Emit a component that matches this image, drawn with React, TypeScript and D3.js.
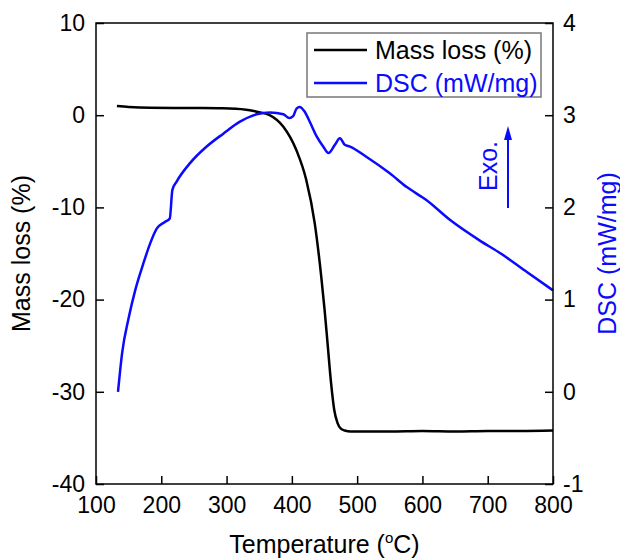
import React, { useRef, useEffect } from "react";
import * as d3 from "d3";

// mass loss (TG) curve, left axis
const massTemp = [132, 150, 183, 250, 294, 330, 346, 366, 387, 407, 422, 435, 445, 450, 455, 460, 465, 470, 475, 481, 490, 500, 550, 600, 650, 700, 750, 800];
const massLoss = [1.0, 0.9, 0.81, 0.78, 0.75, 0.6, 0.38, 0.02, -1.25, -3.8, -7, -11.7, -17.5, -21, -25, -29, -32, -33.4, -34, -34.2, -34.3, -34.3, -34.3, -34.25, -34.3, -34.25, -34.25, -34.2];

// DSC curve, right axis
const dscTemp = [133.7, 140, 150, 160, 172, 183, 193, 205, 213, 217, 223.5, 244, 269.5, 295, 320.5, 346, 366.5, 387, 396, 402, 407, 412, 419.5, 428, 438, 448, 456, 466, 473.6, 481, 489, 514, 550, 576, 606, 643, 688, 720, 760, 800];
const dscValue = [0.0, 0.42, 0.8, 1.1, 1.38, 1.61, 1.77, 1.84, 1.88, 2.19, 2.28, 2.48, 2.66, 2.8, 2.93, 3.01, 3.03, 3.01, 2.97, 2.99, 3.07, 3.09, 3.04, 2.92, 2.77, 2.66, 2.59, 2.68, 2.75, 2.68, 2.66, 2.55, 2.37, 2.22, 2.08, 1.86, 1.64, 1.5, 1.3, 1.1];

const xTicks = [100, 200, 300, 400, 500, 600, 700, 800];
const leftTicks = [-40, -30, -20, -10, 0, 10];
const rightTicks = [-1, 0, 1, 2, 3, 4];

const BLUE = "#0a0aff";
const FONT = "'Liberation Sans', Arial, sans-serif";

export default function App() {
  const ref = useRef<SVGSVGElement>(null);

  useEffect(() => {
    const svg = d3.select(ref.current);
    svg.selectAll("*").remove();
    const width = 620;
    const height = 558;
    const m = { left: 96, right: 553, top: 23, bottom: 484 };

    const x = d3.scaleLinear().domain([100, 800]).range([m.left, m.right]);
    const yL = d3.scaleLinear().domain([-40, 10]).range([m.bottom, m.top]);
    const yR = d3.scaleLinear().domain([-1, 4]).range([m.bottom, m.top]);

    svg.attr("width", width).attr("height", height).style("font-family", FONT);

    // curves
    const massLine = d3
      .line<number>()
      .x((d, i) => x(massTemp[i]))
      .y((d) => yL(d))
      .curve(d3.curveMonotoneX);
    svg
      .append("path")
      .attr("d", massLine(massLoss))
      .attr("fill", "none")
      .attr("stroke", "#000")
      .attr("stroke-width", 2.5);

    const dscLine = d3
      .line<number>()
      .x((d, i) => x(dscTemp[i]))
      .y((d) => yR(d))
      .curve(d3.curveMonotoneX);
    svg
      .append("path")
      .attr("d", dscLine(dscValue))
      .attr("fill", "none")
      .attr("stroke", BLUE)
      .attr("stroke-width", 2.5);

    // frame
    svg
      .append("rect")
      .attr("x", m.left)
      .attr("y", m.top)
      .attr("width", m.right - m.left)
      .attr("height", m.bottom - m.top)
      .attr("fill", "none")
      .attr("stroke", "#000")
      .attr("stroke-width", 1.5);

    const tickLen = 8;
    const fs = 23;
    const fmt = (d: any) => String(d);

    // bottom axis
    const bottom = svg
      .append("g")
      .attr("transform", `translate(0,${m.bottom})`)
      .call(d3.axisBottom(x).tickValues(xTicks).tickFormat(fmt).tickSize(-tickLen).tickPadding(8).tickSizeOuter(0));
    // left axis
    const left = svg
      .append("g")
      .attr("transform", `translate(${m.left},0)`)
      .call(d3.axisLeft(yL).tickValues(leftTicks).tickFormat(fmt).tickSize(-tickLen).tickPadding(11).tickSizeOuter(0));
    // right axis
    const right = svg
      .append("g")
      .attr("transform", `translate(${m.right},0)`)
      .call(d3.axisRight(yR).tickValues(rightTicks).tickFormat(fmt).tickSize(-tickLen).tickPadding(10).tickSizeOuter(0));

    [bottom, left, right].forEach((g) => {
      g.select(".domain").remove();
      g.selectAll("line").attr("stroke", "#000").attr("stroke-width", 1.5);
      g.selectAll("text")
        .attr("fill", "#000")
        .style("font-size", `${fs}px`)
        .style("font-family", FONT);
    });
    bottom.selectAll("text").attr("dy", "0.9em");

    // axis titles
    const xt = svg
      .append("text")
      .attr("x", (m.left + m.right) / 2)
      .attr("y", 553)
      .attr("text-anchor", "middle")
      .style("font-size", "25px");
    xt.append("tspan").text("Temperature (");
    xt.append("tspan").text("o").attr("dy", -10).style("font-size", "15px");
    xt.append("tspan").text("C)").attr("dy", 10);

    svg
      .append("text")
      .attr("transform", `translate(30,${(m.top + m.bottom) / 2}) rotate(-90)`)
      .attr("text-anchor", "middle")
      .style("font-size", "25px")
      .text("Mass loss (%)");

    svg
      .append("text")
      .attr("transform", `translate(616,${(m.top + m.bottom) / 2}) rotate(-90)`)
      .attr("text-anchor", "middle")
      .attr("fill", BLUE)
      .style("font-size", "25px")
      .text("DSC (mW/mg)");

    // legend
    const lg = svg.append("g");
    lg.append("rect")
      .attr("x", 307)
      .attr("y", 33)
      .attr("width", 234)
      .attr("height", 64)
      .attr("fill", "#fff")
      .attr("stroke", "#777")
      .attr("stroke-width", 1.5);
    const items = [
      { label: "Mass loss (%)", color: "#000", textColor: "#000" },
      { label: "DSC (mW/mg)", color: BLUE, textColor: BLUE },
    ];
    items.forEach((it, i) => {
      const cy = 50 + i * 33;
      lg.append("line")
        .attr("x1", 314)
        .attr("x2", 367)
        .attr("y1", cy)
        .attr("y2", cy)
        .attr("stroke", it.color)
        .attr("stroke-width", 2.5);
      lg.append("text")
        .attr("x", 375)
        .attr("y", cy)
        .attr("dy", "0.35em")
        .attr("fill", it.textColor)
        .style("font-size", "25px")
        .text(it.label);
    });

    // Exo. arrow
    svg
      .append("text")
      .attr("transform", `translate(497,166) rotate(-90)`)
      .attr("text-anchor", "middle")
      .attr("fill", BLUE)
      .style("font-size", "25px")
      .text("Exo.");
    svg
      .append("line")
      .attr("x1", 508)
      .attr("x2", 508)
      .attr("y1", 208)
      .attr("y2", 138)
      .attr("stroke", BLUE)
      .attr("stroke-width", 2);
    svg
      .append("path")
      .attr("d", "M508,126 L504,140 L512,140 Z")
      .attr("fill", BLUE);
  }, []);

  return (
    <div style={{ position: "absolute", left: 0, top: 0 }}>
      <svg ref={ref} />
    </div>
  );
}
